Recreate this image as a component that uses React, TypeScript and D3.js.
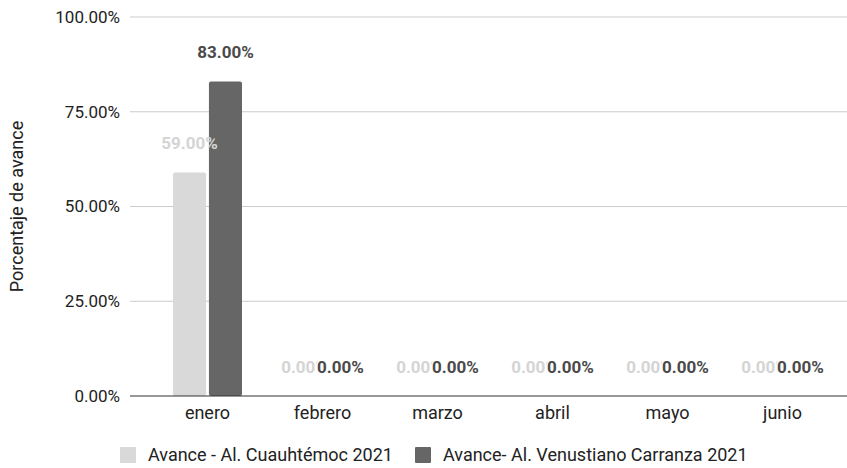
import React from "react";
import * as d3 from "d3";

const categories = ["enero", "febrero", "marzo", "abril", "mayo", "junio"];
const seriesNames = ["Avance - Al. Cuauhtémoc 2021", "Avance- Al. Venustiano Carranza 2021"];
const cuauhtemoc = [59, 0, 0, 0, 0, 0];
const carranza = [83, 0, 0, 0, 0, 0];
const yTicks = [0, 25, 50, 75, 100];

const W = 847, H = 468;
const FONT = "Roboto, 'Noto Sans', sans-serif";
const FS = 18;

export default function App() {
  const y = d3.scaleLinear().domain([0, 100]).range([396, 17]);
  const x = d3.scaleBand<string>().domain(categories).range([150, 840]).paddingInner(0.4).paddingOuter(0.2);
  const x0 = d3.scaleBand<number>().domain([0, 1]).range([0, x.bandwidth()]).paddingInner(0.08);
  const series = [cuauhtemoc, carranza];
  const barColors = ["#d9d9d9", "#666666"];
  const labelColors = ["#d4d4d4", "#4a4a4a"];
  const fmt = (v: number) => v.toFixed(2) + "%";
  return (
    <svg width={W} height={H} style={{ position: "absolute", left: 0, top: 0, background: "#fff" }} fontFamily={FONT}>
      {yTicks.map((t) => (
        <g key={t}>
          {t > 0 && <line x1={130} x2={W} y1={y(t)} y2={y(t)} stroke="#cccccc" strokeWidth={1} />}
          <text x={120} y={y(t)} dy="0.35em" textAnchor="end" fontSize={FS - 1} fill="#222">{fmt(t)}</text>
        </g>
      ))}
      <text transform={`translate(23,${y(50)}) rotate(-90)`} textAnchor="middle" fontSize={FS} fill="#222">Porcentaje de avance</text>
      {categories.map((c, i) => (
        <g key={c} transform={`translate(${x(c)},0)`}>
          {series.map((s, j) => (
            <rect key={j} x={x0(j)} y={y(s[i])} width={x0.bandwidth()} height={y(0) - y(s[i])} fill={barColors[j]} rx={2} />
          ))}
        </g>
      ))}
      <line x1={130} x2={W} y1={y(0)} y2={y(0)} stroke="#333" strokeWidth={1.2} />
      {categories.map((c, i) => (
        <g key={c + "l"} transform={`translate(${x(c)},0)`}>
          {series.map((s, j) => (
            <text key={j} x={x0(j)! + x0.bandwidth() / 2} y={y(s[i]) - 23} textAnchor="middle" fontSize={FS - 1} fontWeight="bold"
              fill={labelColors[j]} stroke={j === 1 ? "#fff" : "none"} strokeWidth={j === 1 ? 3 : 0} paintOrder="stroke">
              {fmt(s[i])}
            </text>
          ))}
          <text x={x.bandwidth() / 2} y={419} textAnchor="middle" fontSize={FS} fill="#222">{c}</text>
        </g>
      ))}
      <rect x={120} y={447} width={16} height={16} fill={barColors[0]} rx={1} />
      <text x={148} y={461} fontSize={FS} fill="#222">{seriesNames[0]}</text>
      <rect x={415} y={447} width={16} height={16} fill={barColors[1]} rx={1} />
      <text x={443} y={461} fontSize={FS} fill="#222">{seriesNames[1]}</text>
    </svg>
  );
}
